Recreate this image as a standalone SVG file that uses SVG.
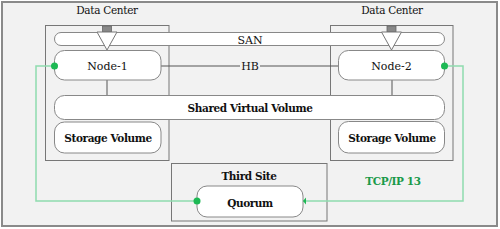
<svg xmlns="http://www.w3.org/2000/svg" width="500" height="229" viewBox="0 0 500 229">
<style>
.bg{fill:#f2f2f2;stroke:#8a8a8a;stroke-width:2}
.dc{fill:#f2f2f2;stroke:#777;stroke-width:1}
.rr{fill:#fff;stroke:#888;stroke-width:1}
.t{font-family:"DejaVu Serif","Liberation Serif",serif;font-size:11px;fill:#111;text-anchor:middle}
.h{font-size:10.5px;letter-spacing:-0.3px}
.b{font-weight:bold;font-size:10.5px;letter-spacing:-0.4px}
.ln{stroke:#555;stroke-width:1;fill:none}
.gl{stroke:#8fdcae;stroke-width:1.5;fill:none}
.gd{fill:#1db954}
</style>
<rect class="bg" x="2" y="2" width="495" height="224"/>
<g id="dc1">
<rect class="dc" x="45.5" y="25.5" width="123.5" height="135"/>
<text class="t h" x="107" y="14">Data Center</text>
</g>
<g id="dc2">
<rect class="dc" x="330.5" y="25.5" width="122.5" height="135"/>
<text class="t h" x="392" y="14">Data Center</text>
</g>
<g id="third">
<rect class="dc" x="171.5" y="163.5" width="155.5" height="57.5"/>
<text class="t b" x="249" y="180">Third Site</text>
</g>
<g id="connectors">
<line class="ln" x1="161" y1="66" x2="240" y2="66"/>
<line class="ln" x1="260" y1="66" x2="338" y2="66"/>
<line class="ln" x1="107" y1="80" x2="107" y2="95"/>
<line class="ln" x1="392" y1="80" x2="392" y2="95"/>
<polyline class="gl" points="54,66 36,66 36,201 197,201"/>
<polyline class="gl" points="444,66 463,66 463,201 303,201"/>
</g>
<g id="san">
<rect class="rr" x="54.5" y="32.5" width="390" height="13" rx="6.5"/>
<text class="t" x="250" y="44">SAN</text>
</g>
<g id="arrow1">
<rect x="102.5" y="26" width="9" height="6" fill="#888" stroke="#666" stroke-width="0.8"/>
<polygon points="97,32 117,32 107,50" fill="#fff" stroke="#777" stroke-width="1"/>
</g>
<g id="arrow2">
<rect x="387" y="26" width="9" height="6" fill="#888" stroke="#666" stroke-width="0.8"/>
<polygon points="381.5,32 401.5,32 391.5,50" fill="#fff" stroke="#777" stroke-width="1"/>
</g>
<g id="node1">
<rect class="rr" x="54.5" y="50.5" width="106.5" height="29.5" rx="10"/>
<text class="t" x="107.5" y="70">Node-1</text>
</g>
<g id="node2">
<rect class="rr" x="338.5" y="50.5" width="106" height="29.5" rx="10"/>
<text class="t" x="391.5" y="70">Node-2</text>
</g>
<text class="t" x="250" y="70">HB</text>
<g id="svv">
<rect class="rr" x="54.5" y="95.5" width="390" height="24" rx="10"/>
<text class="t b" x="250" y="112">Shared Virtual Volume</text>
</g>
<g id="sv1">
<rect class="rr" x="54.5" y="122" width="106.5" height="31" rx="10"/>
<text class="t b" x="108" y="142">Storage Volume</text>
</g>
<g id="sv2">
<rect class="rr" x="338.5" y="121.5" width="106" height="31.5" rx="10"/>
<text class="t b" x="392" y="142">Storage Volume</text>
</g>
<g id="quorum">
<rect class="rr" x="197" y="186" width="106" height="31" rx="10"/>
<text class="t b" x="250" y="207">Quorum</text>
</g>
<circle class="gd" cx="54.5" cy="66" r="3.5"/>
<circle class="gd" cx="444.5" cy="66" r="3.5"/>
<circle class="gd" cx="197" cy="201" r="3.5"/>
<polygon class="gd" points="303,201 306,197.5 306,204.5"/>
<text class="t b" x="393" y="185" style="fill:#1a9a4a">TCP/IP 13</text>
</svg>
